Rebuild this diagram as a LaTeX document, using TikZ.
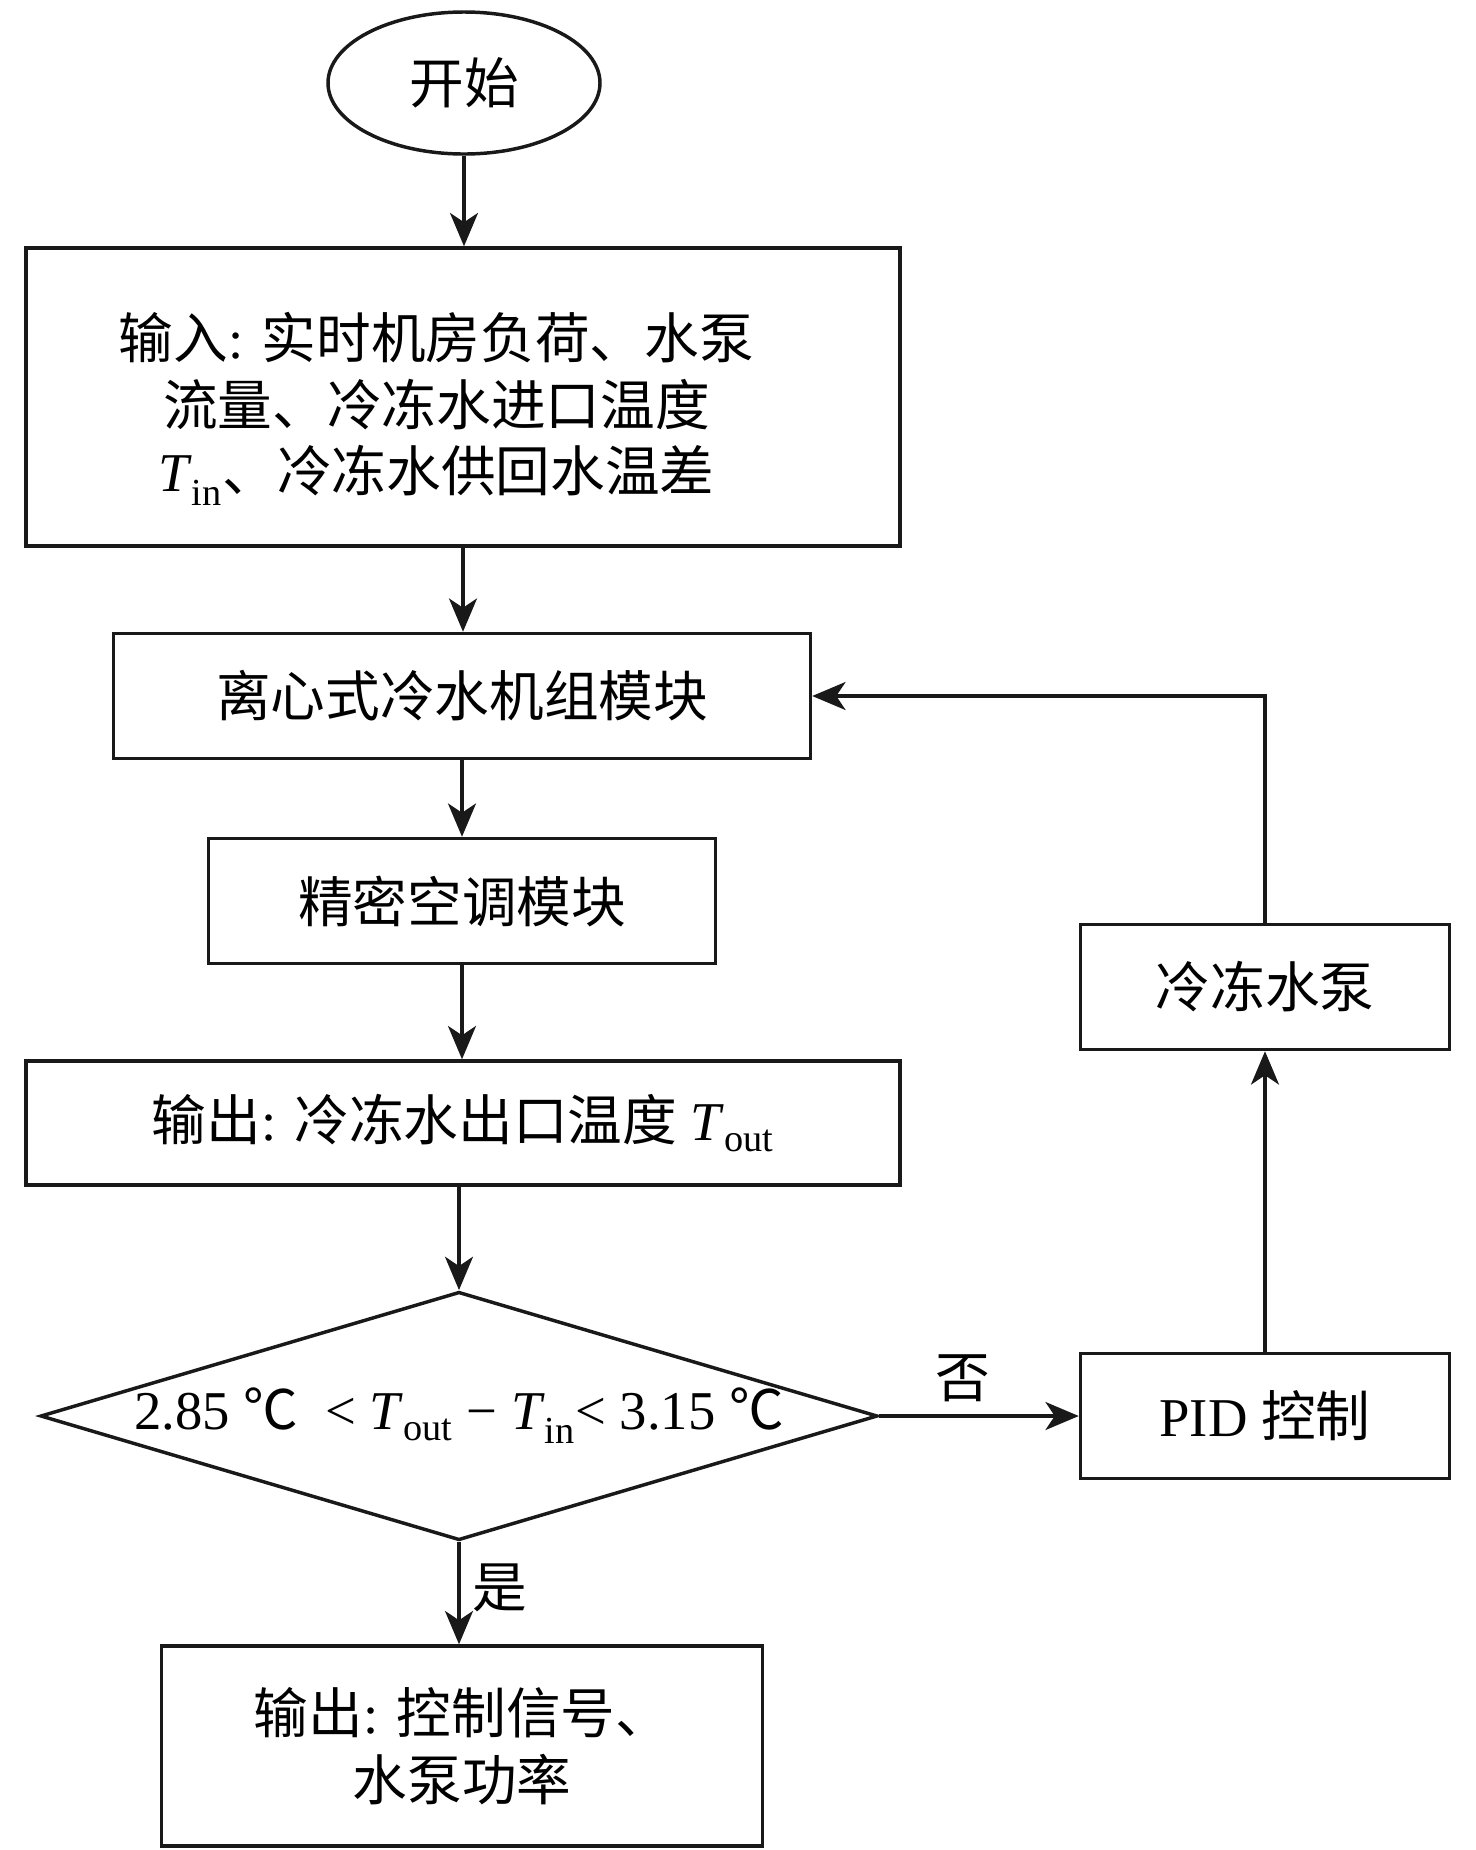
\documentclass[tikz,border=0pt]{standalone}
\usepackage{fontspec}
\setmainfont{Noto Sans CJK SC}
\newfontfamily\lat{Liberation Serif}
\usetikzlibrary{shapes.geometric,arrows.meta}
\newcommand\pxu{0.75pt}
\newcommand\Lt[1]{{\lat #1}}
\newcommand\Tv[1]{{\lat\textit{T}\textsubscript{#1}}}
\begin{document}
\begin{tikzpicture}[x=0.75pt,y=-0.75pt,
  every node/.style={font=\fontsize{41pt}{50pt}\selectfont, line width=2.6pt, draw=black!90, inner sep=0pt},
  box/.style={rectangle, align=center},
  arr/.style={line width=2.4pt, draw=black!90, -{Stealth[length=25pt,width=21pt,inset=7pt]}},
  lbl/.style={draw=none}]
\useasboundingbox (0,0) rectangle (1476,1850);
\node[ellipse, minimum width=272*\pxu, minimum height=142*\pxu] (start) at (464,83) {开始};
\node[box, minimum width=874*\pxu, minimum height=298*\pxu] (input) at (463,397)
  {\begin{tabular}{@{}c@{\hspace{40pt}}}\rule{0pt}{57pt}输入\Lt{: }实时机房负荷、水泵\\流量、冷冻水进口温度\\\Tv{in}、冷冻水供回水温差\end{tabular}};
\node[box, minimum width=697*\pxu, minimum height=125*\pxu] (chiller) at (462,696) {离心式冷水机组模块};
\node[box, minimum width=507*\pxu, minimum height=125*\pxu] (ac) at (462,901) {精密空调模块};
\node[box, minimum width=874*\pxu, minimum height=124*\pxu] (output) at (463,1123)
  {输出\Lt{: }冷冻水出口温度\Lt{ }\Tv{out}};
\node[diamond, shape aspect=3.37, minimum width=836*\pxu, minimum height=248*\pxu] (cond) at (459,1416)
  {\Lt{2.85 }℃\Lt{\ \ < }\Tv{out}\Lt{ − }\Tv{in}\Lt{< 3.15 }℃};
\node[box, minimum width=601*\pxu, minimum height=200*\pxu] (final) at (462,1746)
  {输出\Lt{: }控制信号、\\水泵功率};
\node[box, minimum width=369*\pxu, minimum height=125*\pxu] (pid) at (1265,1416) {\Lt{PID }控制};
\node[box, minimum width=369*\pxu, minimum height=125*\pxu] (pump) at (1265,987) {冷冻水泵};
\node[lbl] (no) at (963,1378) {否};
\node[lbl] (yes) at (500,1588) {是};
\draw[arr] (start.south) -- (start.south |- input.north);
\draw[arr] (input.south) -- (input.south |- chiller.north);
\draw[arr] (chiller.south) -- (chiller.south |- ac.north);
\draw[arr] (ac.south) -- (ac.south |- output.north);
\draw[arr] (cond.north |- output.south) -- (cond.north);
\draw[arr] (cond.east) -- (pid.west);
\draw[arr] (cond.south) -- (cond.south |- final.north);
\draw[arr] (pid.north) -- (pump.south);
\draw[arr] (pump.north) |- (chiller.east);
\end{tikzpicture}
\end{document}
